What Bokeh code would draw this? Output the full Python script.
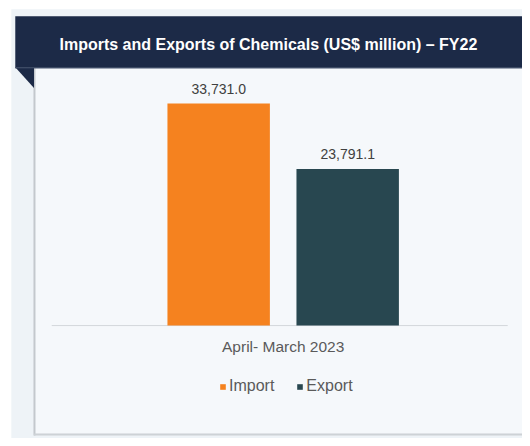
from bokeh.plotting import figure
from bokeh.models import Range1d, Legend, LegendItem, ColumnDataSource
from bokeh.core.properties import value
from bokeh.embed import file_html
from bokeh.resources import INLINE

# ---- data ----
title = "Imports and Exports of Chemicals (US$ million) \u2013 FY22"
group_label = "April- March 2023"
categories = ["Import", "Export"]
values = [33731.0, 23791.1]
colors = ["#f5821f", "#284750"]

W, H = 522, 438
FONT = "Liberation Sans"
# main ranges: reference-image pixel coordinates for the decorations; extra ranges hold the data
p = figure(width=W, height=H, output_backend="svg", toolbar_location=None,
           x_range=Range1d(0, 530), y_range=Range1d(446, 0),
           x_axis_type=None, y_axis_type=None, min_border=0,
           background_fill_color="#ffffff", border_fill_color="#ffffff",
           outline_line_color=None)
p.extra_x_ranges = {"cat": Range1d(-1.691, 2.355)}
p.extra_y_ranges = {"val": Range1d(-17164, 49402)}

# backdrop + panel
p.quad(left=[11], right=[531], top=[9], bottom=[446], fill_color="#eef3f7", line_color=None)
p.quad(left=[35], right=[531], top=[45], bottom=[441], fill_color="#f5f8fb", line_color=None)
p.segment(x0=[34.5], y0=[69], x1=[34.5], y1=[443], line_color="#c3c8cd", line_width=2)
p.segment(x0=[34], y0=[442], x1=[531], y1=[442], line_color="#cdd2d6", line_width=2)
# banner
p.quad(left=[15], right=[531], top=[16], bottom=[69], fill_color="#1c2a47", line_color=None)
p.patch(x=[15, 34, 34], y=[68, 68, 89], fill_color="#1c2a47", line_color=None)
p.segment(x0=[15], y0=[68.5], x1=[531], y1=[68.5], line_color="#4a5870", line_width=1)
p.text(x=[272], y=[45], text=[title], text_color="white", text_font=value(FONT),
       text_font_style="bold", text_font_size="16px", text_align="center", text_baseline="middle")
# baseline
p.segment(x0=[52], y0=[331], x1=[515], y1=[331], line_color="#d3d7db", line_width=1)

src = ColumnDataSource(dict(x=list(range(len(categories))), top=values, cat=categories, color=colors,
                            label=[f"{v:,.1f}" for v in values]))
bars = p.vbar(x="x", top="top", bottom=0, width=0.794, fill_color="color", line_color=None,
              source=src, x_range_name="cat", y_range_name="val")
p.text(x="x", y="top", text="label", source=src, x_range_name="cat", y_range_name="val",
       y_offset=-10, text_align="center", text_baseline="bottom", text_color="#404040",
       text_font=value(FONT), text_font_size="14px")
p.text(x=[(len(categories) - 1) / 2], y=[0], text=[group_label], x_range_name="cat", y_range_name="val",
       y_offset=21, text_align="center", text_baseline="middle", text_color="#5a5a5a",
       text_font=value(FONT), text_font_size="15.5px")

legend = Legend(items=[LegendItem(label=value(c), renderers=[bars], index=i) for i, c in enumerate(categories)],
                orientation="horizontal", location=(219, 43), padding=0, margin=0,
                glyph_width=7, glyph_height=7, label_standoff=3, spacing=22,
                label_text_font=FONT, label_text_font_size="16px",
                label_text_color="#5a5a5a", label_height=16,
                background_fill_alpha=0, border_line_color=None)
p.add_layout(legend, "center")

open("out.html", "w").write(file_html(p, INLINE))
